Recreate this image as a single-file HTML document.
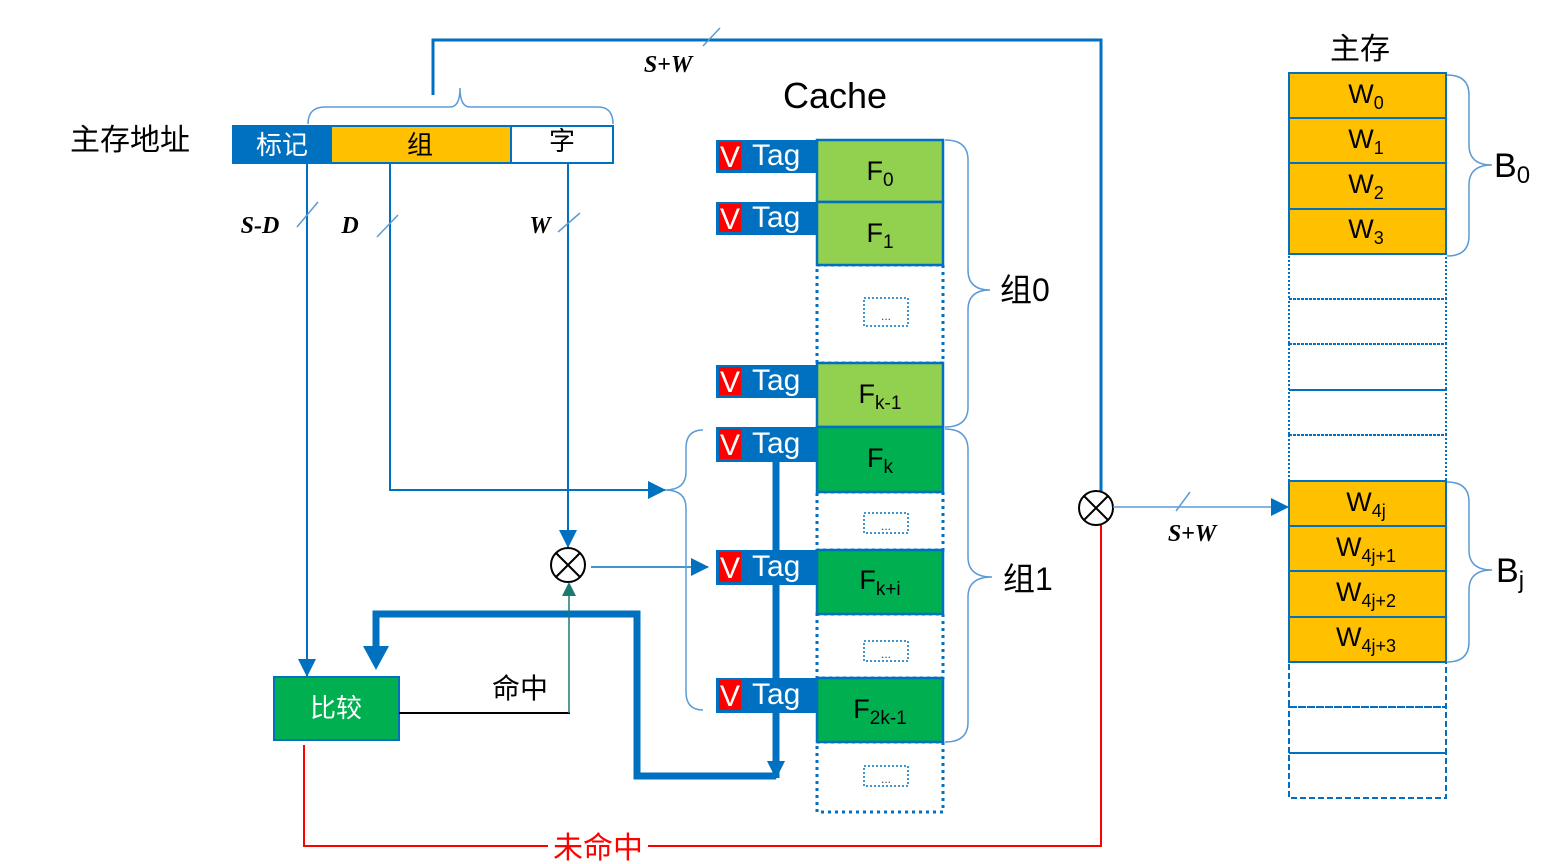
<!DOCTYPE html>
<html><head><meta charset="utf-8"><style>
html,body{margin:0;padding:0;background:#fff;}
svg{display:block;}
text{font-family:"Liberation Sans","Noto Sans CJK SC",sans-serif;}
.it{font-family:"Liberation Serif","Noto Serif CJK SC",serif;font-style:italic;font-weight:bold;}
</style></head><body>
<svg width="1550" height="864" viewBox="0 0 1550 864" xmlns="http://www.w3.org/2000/svg">
<defs>
<marker id="ab" markerWidth="18" markerHeight="18" refX="17" refY="9" orient="auto" markerUnits="userSpaceOnUse" viewBox="0 0 18 18"><path d="M0,0 L18,9 L0,18z" fill="#0070C0"/></marker>
</defs>

<!-- top address -->
<text x="130" y="150" font-size="30" text-anchor="middle" fill="#000">主存地址</text>
<rect x="232" y="125" width="99" height="39" fill="#0070C0"/>
<rect x="331" y="126" width="180" height="37" fill="#FFC000" stroke="#0070C0" stroke-width="2"/>
<rect x="511" y="126" width="102" height="37" fill="#fff" stroke="#0070C0" stroke-width="2"/>
<text x="282" y="154" font-size="26" text-anchor="middle" fill="#fff">标记</text>
<text x="420" y="154" font-size="26" text-anchor="middle" fill="#000">组</text>
<text x="562" y="150" font-size="26" text-anchor="middle" fill="#000">字</text>
<path d="M308,124 Q308,107 325,107 L450,107 Q460,107 460,88 Q460,107 470,107 L598,107 Q613,107 613,124" fill="none" stroke="#5B9BD5" stroke-width="1.5"/>
<polyline points="433,95 433,40 1101,40 1101,492" fill="none" stroke="#0070C0" stroke-width="3"/>
<line x1="703" y1="46" x2="720" y2="28" stroke="#5B9BD5" stroke-width="1.5"/>
<text x="668" y="72" font-size="24" class="it" text-anchor="middle">S+W</text>

<line x1="307" y1="164" x2="307" y2="676" stroke="#0070C0" stroke-width="2" marker-end="url(#ab)"/>
<polyline points="390,164 390,490 665,490" fill="none" stroke="#0070C0" stroke-width="2" marker-end="url(#ab)"/>
<line x1="568" y1="164" x2="568" y2="547" stroke="#0070C0" stroke-width="2" marker-end="url(#ab)"/>
<line x1="297" y1="227" x2="318" y2="202" stroke="#5B9BD5" stroke-width="1.5"/>
<line x1="377" y1="237" x2="398" y2="215" stroke="#5B9BD5" stroke-width="1.5"/>
<line x1="558" y1="232" x2="580" y2="213" stroke="#5B9BD5" stroke-width="1.5"/>
<text x="260" y="233" font-size="24" class="it" text-anchor="middle">S-D</text>
<text x="350" y="233" font-size="24" class="it" text-anchor="middle">D</text>
<text x="540" y="233" font-size="24" class="it" text-anchor="middle">W</text>

<circle cx="568" cy="565" r="17" fill="#fff" stroke="#000" stroke-width="2"/>
<line x1="556" y1="553" x2="580" y2="577" stroke="#000" stroke-width="2"/>
<line x1="580" y1="553" x2="556" y2="577" stroke="#000" stroke-width="2"/>
<line x1="591" y1="567" x2="708" y2="567" stroke="#0070C0" stroke-width="1.5" marker-end="url(#ab)"/>

<path d="M703,430 Q686,430 686,448 L686,472 Q686,490 665,490 Q686,490 686,508 L686,692 Q686,710 703,710" fill="none" stroke="#5B9BD5" stroke-width="1.5"/>

<text x="835" y="108" font-size="36" text-anchor="middle" fill="#000">Cache</text>
<g stroke="#0070C0" stroke-width="3" fill="none" stroke-dasharray="3,4">
<rect x="817" y="265" width="126" height="98"/>
<rect x="817" y="492" width="126" height="58"/>
<rect x="817" y="614" width="126" height="64"/>
<rect x="817" y="742" width="126" height="70"/>
</g>
<g stroke="#0070C0" stroke-width="1.5" fill="none" stroke-dasharray="2,2">
<rect x="864" y="298" width="44" height="28"/>
<rect x="864" y="513" width="44" height="20"/>
<rect x="864" y="641" width="44" height="20"/>
<rect x="864" y="766" width="44" height="20"/>
</g>
<g font-size="12" fill="#444" text-anchor="middle">
<text x="886" y="320">...</text><text x="886" y="530">...</text><text x="886" y="658">...</text><text x="886" y="783">...</text>
</g>

<line x1="776" y1="460" x2="776" y2="778" stroke="#0070C0" stroke-width="7" marker-end="url(#ab)"/>
<polyline points="776,776 637,776 637,614 376,614 376,652" fill="none" stroke="#0070C0" stroke-width="7"/>
<path d="M363,646 L389,646 L376,670z" fill="#0070C0"/>

<g stroke="#0070C0" stroke-width="2.5">
<rect x="817" y="140" width="126" height="62" fill="#92D050"/>
<rect x="817" y="202" width="126" height="63" fill="#92D050"/>
<rect x="817" y="363" width="126" height="64" fill="#92D050"/>
<rect x="817" y="427" width="126" height="65" fill="#00B050"/>
<rect x="817" y="550" width="126" height="64" fill="#00B050"/>
<rect x="817" y="678" width="126" height="64" fill="#00B050"/>
</g>
<g font-size="27" fill="#000" text-anchor="middle">
<text x="880" y="180">F<tspan font-size="19" dy="6">0</tspan></text>
<text x="880" y="242">F<tspan font-size="19" dy="6">1</tspan></text>
<text x="880" y="403">F<tspan font-size="19" dy="6">k-1</tspan></text>
<text x="880" y="467">F<tspan font-size="19" dy="6">k</tspan></text>
<text x="880" y="589">F<tspan font-size="19" dy="6">k+i</tspan></text>
<text x="880" y="718">F<tspan font-size="19" dy="6">2k-1</tspan></text>
</g>
<g>
<rect x="716" y="140" width="101" height="33" fill="#0070C0"/><rect x="719" y="142" width="22" height="28" fill="#FF0000"/>
<rect x="716" y="202" width="101" height="33" fill="#0070C0"/><rect x="719" y="204" width="22" height="28" fill="#FF0000"/>
<rect x="716" y="365" width="101" height="33" fill="#0070C0"/><rect x="719" y="367" width="22" height="28" fill="#FF0000"/>
<rect x="716" y="427" width="101" height="35" fill="#0070C0"/><rect x="719" y="429" width="22" height="30" fill="#FF0000"/>
<rect x="716" y="550" width="101" height="35" fill="#0070C0"/><rect x="719" y="552" width="22" height="30" fill="#FF0000"/>
<rect x="716" y="678" width="101" height="35" fill="#0070C0"/><rect x="719" y="680" width="22" height="30" fill="#FF0000"/>
</g>
<g font-size="30" fill="#fff">
<text x="720" y="167">V</text><text x="752" y="165">Tag</text>
<text x="720" y="229">V</text><text x="752" y="227">Tag</text>
<text x="720" y="392">V</text><text x="752" y="390">Tag</text>
<text x="720" y="455">V</text><text x="752" y="453">Tag</text>
<text x="720" y="578">V</text><text x="752" y="576">Tag</text>
<text x="720" y="706">V</text><text x="752" y="704">Tag</text>
</g>
<path d="M945,140 Q968,140 968,160 L968,270 Q968,290 990,290 Q968,290 968,310 L968,407 Q968,427 945,427" fill="none" stroke="#5B9BD5" stroke-width="1.5"/>
<path d="M945,429 Q968,429 968,450 L968,557 Q968,577 992,577 Q968,577 968,597 L968,722 Q968,742 945,742" fill="none" stroke="#5B9BD5" stroke-width="1.5"/>
<text x="1000" y="301" font-size="32" fill="#000">组0</text>
<text x="1003" y="590" font-size="32" fill="#000">组1</text>

<rect x="274" y="677" width="125" height="63" fill="#00B050" stroke="#0070C0" stroke-width="2"/>
<text x="336" y="717" font-size="26" fill="#fff" text-anchor="middle">比较</text>
<polyline points="399,713 570,713" fill="none" stroke="#000" stroke-width="2"/>
<line x1="569" y1="713" x2="569" y2="590" stroke="#1a7a70" stroke-width="1.5"/>
<path d="M562,596 L576,596 L569,582z" fill="#1a7a70"/>
<text x="520" y="698" font-size="28" fill="#000" text-anchor="middle">命中</text>

<polyline points="304,745 304,846 548,846" fill="none" stroke="#FF0000" stroke-width="2"/>
<polyline points="648,846 1101,846 1101,523" fill="none" stroke="#FF0000" stroke-width="2"/>
<text x="598" y="858" font-size="30" fill="#FF0000" text-anchor="middle">未命中</text>

<circle cx="1096" cy="508" r="17" fill="#fff" stroke="#000" stroke-width="2"/>
<line x1="1084" y1="496" x2="1108" y2="520" stroke="#000" stroke-width="2"/>
<line x1="1108" y1="496" x2="1084" y2="520" stroke="#000" stroke-width="2"/>
<line x1="1113" y1="507" x2="1289" y2="507" stroke="#5B9BD5" stroke-width="1.5"/>
<path d="M1271,498 L1289,507 L1271,516z" fill="#0070C0"/>
<line x1="1176" y1="511" x2="1190" y2="492" stroke="#5B9BD5" stroke-width="1.5"/>
<text x="1192" y="541" font-size="24" class="it" text-anchor="middle">S+W</text>

<text x="1360" y="59" font-size="30" fill="#000" text-anchor="middle">主存</text>
<g stroke="#0070C0" stroke-width="2" fill="none" stroke-dasharray="2,2">
<rect x="1289" y="254" width="157" height="45"/><rect x="1289" y="299" width="157" height="45"/>
<rect x="1289" y="344" width="157" height="46"/><rect x="1289" y="390" width="157" height="45"/>
<rect x="1289" y="435" width="157" height="46"/>
</g>
<g stroke="#0070C0" stroke-width="2" fill="none" stroke-dasharray="6,3">
<rect x="1289" y="662" width="157" height="45"/><rect x="1289" y="707" width="157" height="46"/>
<rect x="1289" y="753" width="157" height="45"/>
</g>
<g stroke="#0070C0" stroke-width="2" fill="#FFC000">
<rect x="1289" y="73" width="157" height="45"/><rect x="1289" y="118" width="157" height="45"/>
<rect x="1289" y="163" width="157" height="46"/><rect x="1289" y="209" width="157" height="45"/>
<rect x="1289" y="481" width="157" height="45"/><rect x="1289" y="526" width="157" height="45"/>
<rect x="1289" y="571" width="157" height="46"/><rect x="1289" y="617" width="157" height="45"/>
</g>
<g font-size="27" fill="#000" text-anchor="middle">
<text x="1366" y="103">W<tspan font-size="18" dy="6">0</tspan></text>
<text x="1366" y="148">W<tspan font-size="18" dy="6">1</tspan></text>
<text x="1366" y="193">W<tspan font-size="18" dy="6">2</tspan></text>
<text x="1366" y="238">W<tspan font-size="18" dy="6">3</tspan></text>
<text x="1366" y="511">W<tspan font-size="18" dy="6">4j</tspan></text>
<text x="1366" y="556">W<tspan font-size="18" dy="6">4j+1</tspan></text>
<text x="1366" y="601">W<tspan font-size="18" dy="6">4j+2</tspan></text>
<text x="1366" y="646">W<tspan font-size="18" dy="6">4j+3</tspan></text>
</g>
<path d="M1447,75 Q1469,75 1469,95 L1469,145 Q1469,165 1492,165 Q1469,165 1469,185 L1469,236 Q1469,256 1447,256" fill="none" stroke="#5B9BD5" stroke-width="1.5"/>
<path d="M1447,482 Q1469,482 1469,502 L1469,550 Q1469,570 1492,570 Q1469,570 1469,590 L1469,642 Q1469,662 1447,662" fill="none" stroke="#5B9BD5" stroke-width="1.5"/>
<text x="1494" y="177" font-size="34" fill="#000">B<tspan font-size="24" dy="6">0</tspan></text>
<text x="1496" y="582" font-size="34" fill="#000">B<tspan font-size="24" dy="6">j</tspan></text>
</svg>
</body></html>
